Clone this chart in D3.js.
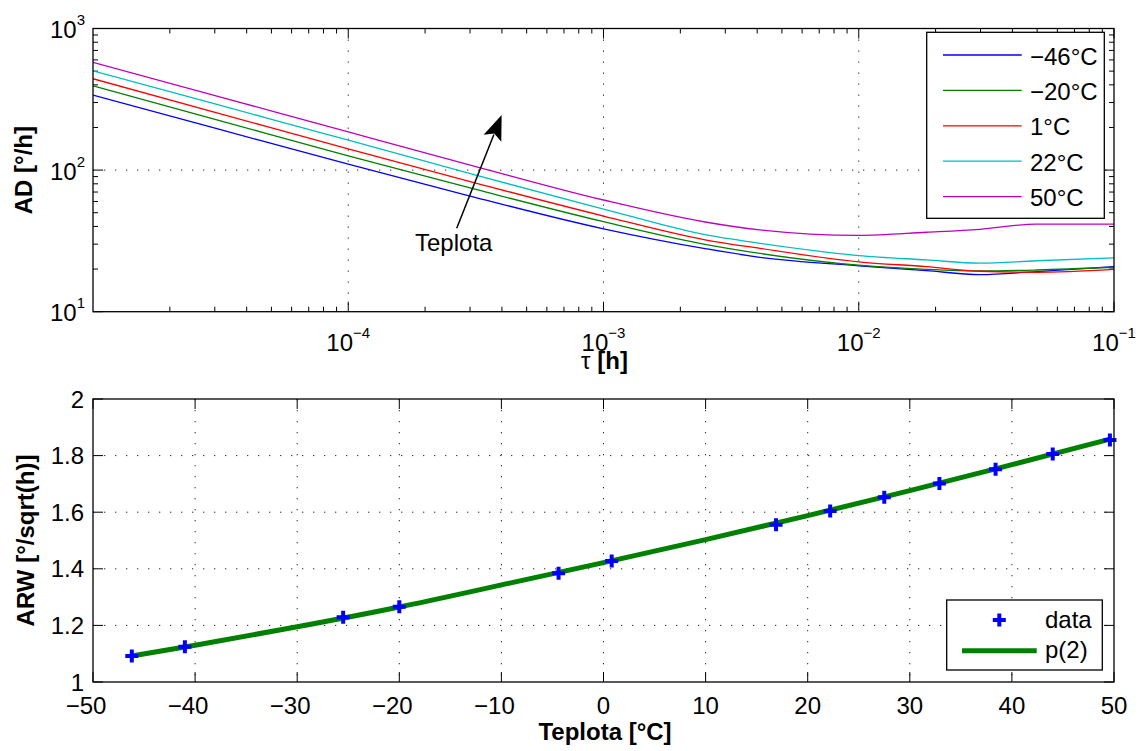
<!DOCTYPE html>
<html><head><meta charset="utf-8">
<script src="https://cdn.jsdelivr.net/npm/d3@7"></script>
<style>
body{margin:0;background:#fff}
text{font-family:"Liberation Sans",Arial,Helvetica,sans-serif;fill:#000}
</style>
</head><body>
<svg id="chart" width="1145" height="751"></svg>
<script>
// ---------- DATA ----------
// top panel: Allan deviation vs tau for several temperatures
const tau = [1e-5, 3.16e-5, 1e-4, 3.16e-4, 1e-3, 2.5e-3, 4.1e-3, 1e-2, 1.84e-2, 2.98e-2, 4.97e-2, 1e-1];
const seriesNames  = ["−46°C", "−20°C", "1°C", "22°C", "50°C"];
const seriesColors = ["#0000ff", "#008000", "#ff0000", "#00bfbf", "#bf00bf"];
const adM46 = [339, 193, 110, 64.0, 38.5, 27.9, 24.2, 21.1, 19.5, 18.3, 19.2, 20.8];
const adM20 = [394, 223, 126, 73.0, 43.2, 29.9, 25.8, 21.3, 19.9, 19.4, 19.7, 20.6];
const adP1  = [442, 250, 141, 81.0, 47.4, 32.2, 28.0, 22.5, 20.8, 19.3, 19.0, 19.9];
const adP22 = [503, 286, 163, 92.0, 53.1, 35.0, 30.4, 24.9, 23.2, 22.0, 22.9, 24.0];
const adP50 = [577, 328, 186, 106, 61.5, 43.0, 37.8, 34.6, 36.4, 38.2, 41.6, 41.6];
const adSeries = [adM46, adM20, adP1, adP22, adP50];
const topXTicks = [1e-4, 1e-3, 1e-2, 1e-1];
const topXTickExp = ["−4", "−3", "−2", "−1"];
const topYTicks = [10, 100, 1000];
const topYTickExp = ["1", "2", "3"];

// bottom panel: ARW vs temperature
const tempData = [-46.2, -41, -25.5, -20, -4.4, 0.8, 16.9, 22.2, 27.5, 32.9, 38.4, 44, 49.6];
const arwData  = [1.092, 1.125, 1.229, 1.266, 1.384, 1.428, 1.556, 1.604, 1.653, 1.701, 1.752, 1.806, 1.855];
const fitTemp  = [-46.2, -40, -30, -20, -10, 0, 10, 20, 30, 40, 49.6];
const fitARW   = [1.092, 1.130, 1.195, 1.265, 1.343, 1.422, 1.503, 1.588, 1.676, 1.768, 1.858];
const botXTicks = [-50, -40, -30, -20, -10, 0, 10, 20, 30, 40, 50];
const botYTicks = [1, 1.2, 1.4, 1.6, 1.8, 2];
const botYTickLabels = ["1", "1.2", "1.4", "1.6", "1.8", "2"];

// ---------- LAYOUT ----------
const svg = d3.select("#chart");
svg.append("rect").attr("width", 1145).attr("height", 751).attr("fill", "#fff");
const L = 93, R = 1114;
const top1 = 28.5, bot1 = 311.7;
const top2 = 399, bot2 = 682;
const FS = 24;

const x1 = d3.scaleLog().domain([1e-5, 1e-1]).range([L, R]);
const y1 = d3.scaleLog().domain([10, 1000]).range([bot1, top1]);
const x2 = d3.scaleLinear().domain([-50, 50]).range([L, R]);
const y2 = d3.scaleLinear().domain([1, 2]).range([bot2, top2]);

const gridStyle = g => g.attr("stroke", "#000").attr("stroke-width", 1)
  .attr("stroke-dasharray", "1.3,9.7").attr("opacity", 0.85);

// ---------- TOP PANEL ----------
const g1 = svg.append("g");
svg.append("clipPath").attr("id", "clip1").append("rect")
  .attr("x", L).attr("y", top1).attr("width", R - L).attr("height", bot1 - top1);

// grid
const grid1 = g1.append("g").call(gridStyle);
[1e-4, 1e-3, 1e-2].forEach(v => grid1.append("line")
  .attr("x1", x1(v)).attr("x2", x1(v)).attr("y1", top1).attr("y2", bot1));
[100].forEach(v => grid1.append("line")
  .attr("x1", L).attr("x2", R).attr("y1", y1(v)).attr("y2", y1(v)));

// ticks
const xMinor1 = [], yMinor1 = [];
for (let k = -5; k <= -2; k++) for (let m = 2; m <= 9; m++) xMinor1.push(m * Math.pow(10, k));
for (let k = 1; k <= 2; k++) for (let m = 2; m <= 9; m++) yMinor1.push(m * Math.pow(10, k));
const t1 = g1.append("g").attr("stroke", "#000").attr("stroke-width", 1);
xMinor1.forEach(v => {
  t1.append("line").attr("x1", x1(v)).attr("x2", x1(v)).attr("y1", bot1).attr("y2", bot1 - 5);
  t1.append("line").attr("x1", x1(v)).attr("x2", x1(v)).attr("y1", top1).attr("y2", top1 + 5);
});
topXTicks.forEach(v => {
  t1.append("line").attr("x1", x1(v)).attr("x2", x1(v)).attr("y1", bot1).attr("y2", bot1 - 10);
  t1.append("line").attr("x1", x1(v)).attr("x2", x1(v)).attr("y1", top1).attr("y2", top1 + 10);
});
yMinor1.forEach(v => {
  t1.append("line").attr("x1", L).attr("x2", L + 5).attr("y1", y1(v)).attr("y2", y1(v));
  t1.append("line").attr("x1", R).attr("x2", R - 5).attr("y1", y1(v)).attr("y2", y1(v));
});
topYTicks.forEach(v => {
  t1.append("line").attr("x1", L).attr("x2", L + 10).attr("y1", y1(v)).attr("y2", y1(v));
  t1.append("line").attr("x1", R).attr("x2", R - 10).attr("y1", y1(v)).attr("y2", y1(v));
});

// curves
const line1 = d3.line().x(d => x1(d[0])).y(d => y1(d[1])).curve(d3.curveMonotoneX);
const curves = g1.append("g").attr("clip-path", "url(#clip1)");
adSeries.forEach((s, i) => {
  curves.append("path").datum(tau.map((t, j) => [t, s[j]]))
    .attr("d", line1).attr("fill", "none")
    .attr("stroke", seriesColors[i]).attr("stroke-width", 1.3);
});

// box
g1.append("rect").attr("x", L).attr("y", top1).attr("width", R - L).attr("height", bot1 - top1)
  .attr("fill", "none").attr("stroke", "#000").attr("stroke-width", 1.3);

// tick labels
topXTicks.forEach((v, i) => {
  const t = g1.append("text").attr("x", x1(v)).attr("y", bot1 + 39)
    .attr("text-anchor", "middle").attr("font-size", FS);
  t.append("tspan").text("10");
  t.append("tspan").attr("dy", -13).attr("font-size", 15).text(topXTickExp[i]);
});
topYTicks.forEach((v, i) => {
  const t = g1.append("text").attr("x", 85).attr("y", y1(v) + 9.5)
    .attr("text-anchor", "end").attr("font-size", FS);
  t.append("tspan").text("10");
  t.append("tspan").attr("dy", -13).attr("font-size", 15).text(topYTickExp[i]);
});

// axis labels
const xl1 = g1.append("text").attr("x", (L + R) / 2 + 1).attr("y", 369)
  .attr("text-anchor", "middle").attr("font-size", FS);
xl1.append("tspan").text("τ");
xl1.append("tspan").attr("font-weight", "bold").text(" [h]");
g1.append("text").attr("transform", `translate(32,${(top1 + bot1) / 2}) rotate(-90)`)
  .attr("text-anchor", "middle").attr("font-size", FS).attr("font-weight", "bold").text("AD [°/h]");

// annotation arrow
const tail = [x1(2.66e-4), y1(38.8)], tip = [x1(3.99e-4), y1(245)];
const dx = tip[0] - tail[0], dy = tip[1] - tail[1], len = Math.hypot(dx, dy);
const ux = dx / len, uy = dy / len, nx = -uy, ny = ux;
const HL = 25, HW = 9.5;
const base = [tip[0] - HL * ux, tip[1] - HL * uy];
g1.append("line").attr("x1", tail[0]).attr("y1", tail[1])
  .attr("x2", base[0] + 4 * ux).attr("y2", base[1] + 4 * uy)
  .attr("stroke", "#000").attr("stroke-width", 1.5);
g1.append("path").attr("d", d3.line()([
  tip,
  [base[0] + HW * nx, base[1] + HW * ny],
  [tip[0] - HL * 0.8 * ux, tip[1] - HL * 0.8 * uy],
  [base[0] - HW * nx, base[1] - HW * ny]
]) + "Z").attr("fill", "#000");
g1.append("text").attr("x", 415).attr("y", 251).attr("font-size", FS).text("Teplota");

// legend
const lg1 = g1.append("g");
lg1.append("rect").attr("x", 926.7).attr("y", 32.3).attr("width", 177.6).attr("height", 186)
  .attr("fill", "#fff").attr("stroke", "#000").attr("stroke-width", 1.3);
seriesNames.forEach((n, i) => {
  const yy = 55 + i * 35.4;
  lg1.append("line").attr("x1", 943).attr("x2", 1021.7).attr("y1", yy).attr("y2", yy)
    .attr("stroke", seriesColors[i]).attr("stroke-width", 1.3);
  lg1.append("text").attr("x", 1030).attr("y", yy + 9.5).attr("font-size", FS).text(n);
});

// ---------- BOTTOM PANEL ----------
const g2 = svg.append("g");
const grid2 = g2.append("g").call(gridStyle);
botXTicks.slice(1, -1).forEach(v => grid2.append("line")
  .attr("x1", x2(v)).attr("x2", x2(v)).attr("y1", top2).attr("y2", bot2));
botYTicks.slice(1, -1).forEach(v => grid2.append("line")
  .attr("x1", L).attr("x2", R).attr("y1", y2(v)).attr("y2", y2(v)));

const t2 = g2.append("g").attr("stroke", "#000").attr("stroke-width", 1);
botXTicks.forEach(v => {
  t2.append("line").attr("x1", x2(v)).attr("x2", x2(v)).attr("y1", bot2).attr("y2", bot2 - 10);
  t2.append("line").attr("x1", x2(v)).attr("x2", x2(v)).attr("y1", top2).attr("y2", top2 + 10);
});
botYTicks.forEach(v => {
  t2.append("line").attr("x1", L).attr("x2", L + 10).attr("y1", y2(v)).attr("y2", y2(v));
  t2.append("line").attr("x1", R).attr("x2", R - 10).attr("y1", y2(v)).attr("y2", y2(v));
});

// fit line
g2.append("path").datum(fitTemp.map((t, i) => [t, fitARW[i]]))
  .attr("d", d3.line().x(d => x2(d[0])).y(d => y2(d[1])).curve(d3.curveMonotoneX))
  .attr("fill", "none").attr("stroke", "#008000").attr("stroke-width", 5).attr("stroke-linecap", "butt");

// data markers (+)
const plus = (g, cx, cy, s) => g.append("path")
  .attr("d", `M${cx - s},${cy}H${cx + s}M${cx},${cy - s}V${cy + s}`)
  .attr("stroke", "#0000ff").attr("stroke-width", 4).attr("fill", "none");
const mk = g2.append("g");
tempData.forEach((t, i) => plus(mk, x2(t), y2(arwData[i]), 6.5));

// box
g2.append("rect").attr("x", L).attr("y", top2).attr("width", R - L).attr("height", bot2 - top2)
  .attr("fill", "none").attr("stroke", "#000").attr("stroke-width", 1.3);

// tick labels
botXTicks.forEach(v => {
  g2.append("text").attr("x", x2(v) + (v < 0 ? -7 : 0)).attr("y", bot2 + 32)
    .attr("text-anchor", "middle").attr("font-size", FS)
    .text(v < 0 ? "−" + Math.abs(v) : String(v));
});
botYTicks.forEach((v, i) => {
  g2.append("text").attr("x", 84).attr("y", y2(v) + 8.5).attr("text-anchor", "end")
    .attr("font-size", FS).text(botYTickLabels[i]);
});

// axis labels
g2.append("text").attr("x", 605).attr("y", 740).attr("text-anchor", "middle")
  .attr("font-size", FS).attr("font-weight", "bold").text("Teplota [°C]");
g2.append("text").attr("transform", `translate(34,${(top2 + bot2) / 2}) rotate(-90)`)
  .attr("text-anchor", "middle").attr("font-size", FS).attr("font-weight", "bold").text("ARW [°/sqrt(h)]");

// legend
const lg2 = g2.append("g");
lg2.append("rect").attr("x", 946.7).attr("y", 600).attr("width", 155.6).attr("height", 70)
  .attr("fill", "#fff").attr("stroke", "#000").attr("stroke-width", 1.3);
plus(lg2, 999.3, 620, 6.5);
lg2.append("text").attr("x", 1045).attr("y", 628).attr("font-size", FS).text("data");
lg2.append("line").attr("x1", 962).attr("x2", 1036.7).attr("y1", 650.7).attr("y2", 650.7)
  .attr("stroke", "#008000").attr("stroke-width", 5);
lg2.append("text").attr("x", 1045).attr("y", 658).attr("font-size", FS).text("p(2)");
</script>
</body></html>
